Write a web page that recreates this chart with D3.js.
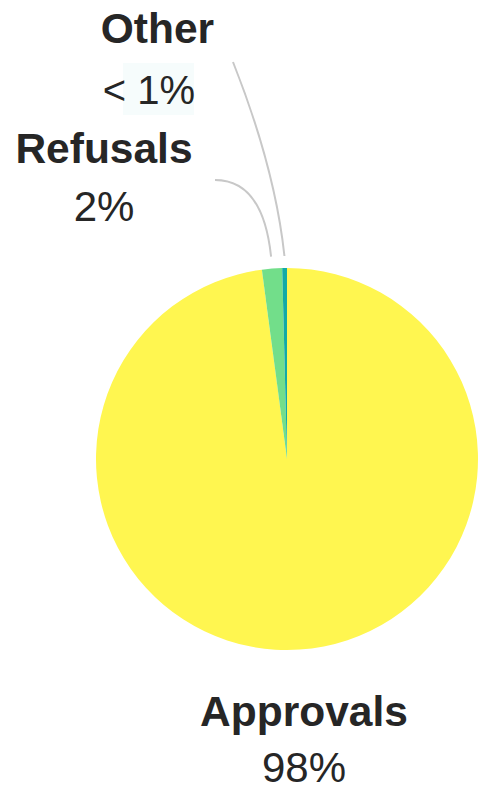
<!DOCTYPE html>
<html>
<head>
<meta charset="utf-8">
<script src="https://cdn.jsdelivr.net/npm/d3@7"></script>
<style>
  html, body { margin: 0; padding: 0; background: #ffffff; }
  svg { display: block; }
</style>
</head>
<body>
<svg id="chart" width="480" height="788"></svg>
<script>
// ---- data ----
const categories = ["Approvals", "Refusals", "Other"];
const values = [97.9, 1.7, 0.4];
const valueLabels = ["98%", "2%", "< 1%"];
const colors = ["#fff650", "#72de8a", "#13aaa6"];

// ---- layout ----
const W = 480, H = 788;
const cx = 287, cy = 459, R = 191;
const svg = d3.select("#chart");

const data = categories.map((c, i) => ({ name: c, value: values[i], label: valueLabels[i], color: colors[i] }));

const pie = d3.pie().sort(null).value(d => d.value);
const arcs = pie(data);
const arc = d3.arc().innerRadius(0).outerRadius(R);

const g = svg.append("g").attr("transform", `translate(${cx},${cy})`);
g.selectAll("path.slice").data(arcs).enter().append("path")
  .attr("class", "slice")
  .attr("d", arc)
  .attr("fill", d => d.data.color);

// label placement (layout only)
const labelPos = {
  "Other":     { x: 157.5, y: 43,  vx: 149, vy: 104, vs: 40, lx: 233, ly: 62,  c: [275, 168], rect: [123, 63, 71, 52] },
  "Refusals":  { x: 104,   y: 163, vx: 104, vy: 220.5, vs: 42, lx: 215, ly: 180, c: [263, 180] },
  "Approvals": { x: 304,   y: 726, vx: 304, vy: 781.5, vs: 42 }
};

// leader lines: end at slice mid-angle just outside pie
const outer = R + 12;
arcs.forEach(a => {
  const p = labelPos[a.data.name];
  if (p.lx === undefined) return;
  const mid = (a.startAngle + a.endAngle) / 2;
  const ex = cx + outer * Math.sin(mid);
  const ey = cy - outer * Math.cos(mid);
  const path = d3.path();
  path.moveTo(p.lx, p.ly);
  path.quadraticCurveTo(p.c[0], p.c[1], ex, ey);
  svg.append("path")
    .attr("d", path.toString())
    .attr("fill", "none")
    .attr("stroke", "#c8c8c8")
    .attr("stroke-width", 2);
});

arcs.forEach(a => {
  const p = labelPos[a.data.name];
  if (p.rect) {
    svg.append("rect")
      .attr("x", p.rect[0]).attr("y", p.rect[1])
      .attr("width", p.rect[2]).attr("height", p.rect[3])
      .attr("fill", "#f6fcfc");
  }
  svg.append("text")
    .attr("x", p.x).attr("y", p.y)
    .attr("text-anchor", "middle")
    .attr("font-family", "'Liberation Sans', Arial, sans-serif")
    .attr("font-weight", "bold")
    .attr("font-size", 42.5)
    .attr("fill", "#262626")
    .text(a.data.name);
  svg.append("text")
    .attr("x", p.vx).attr("y", p.vy)
    .attr("text-anchor", "middle")
    .attr("font-family", "'Liberation Sans', Arial, sans-serif")
    .attr("font-size", p.vs)
    .attr("fill", "#262626")
    .text(a.data.label);
});
</script>
</body>
</html>
